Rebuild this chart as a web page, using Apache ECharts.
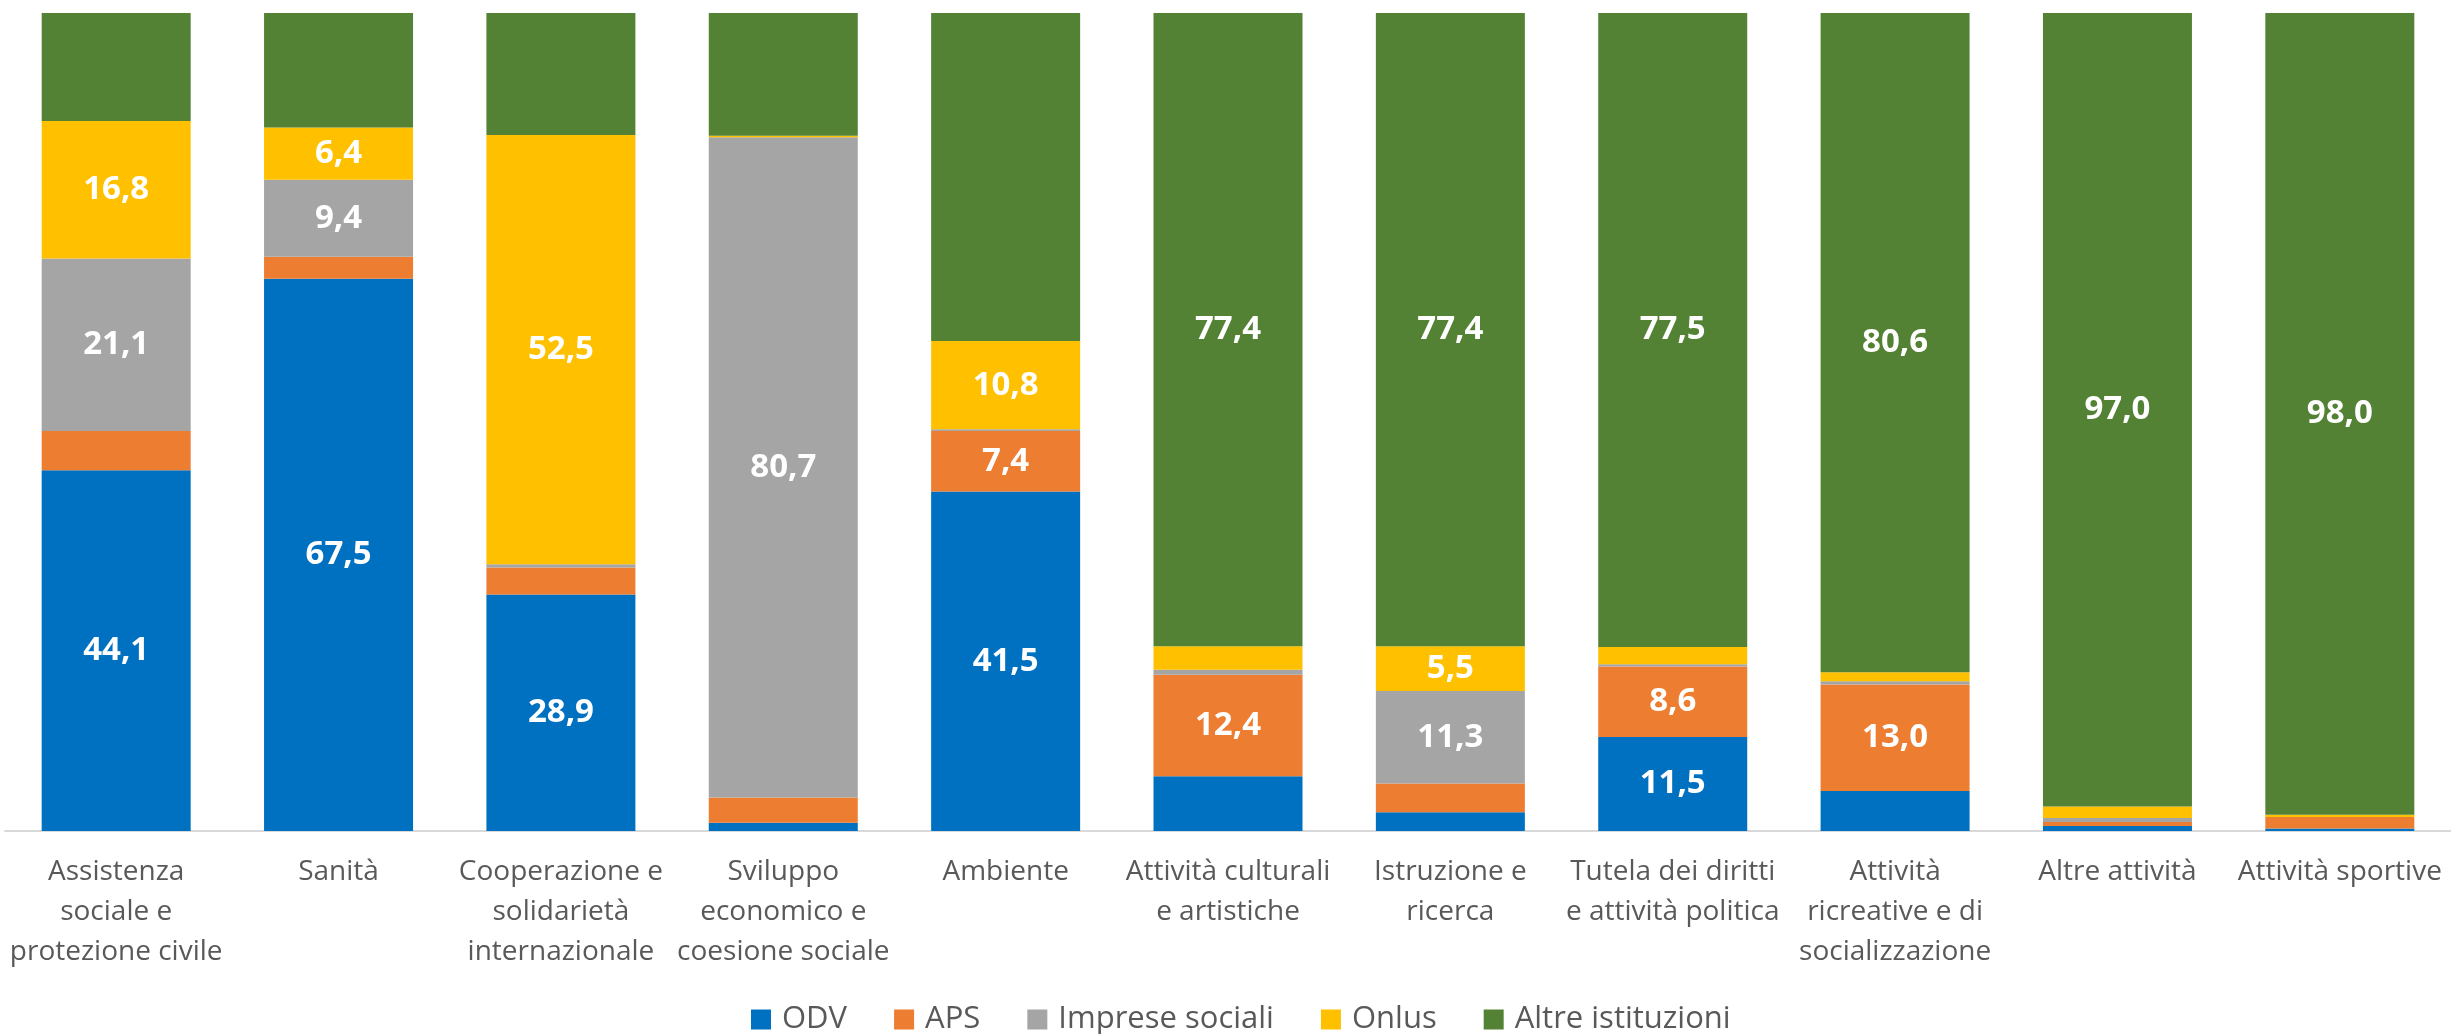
<!DOCTYPE html>
<html>
<head>
<meta charset="utf-8">
<script src="https://cdn.jsdelivr.net/npm/echarts@6/dist/echarts.min.js"></script>
<style>
html,body{margin:0;padding:0;background:#fff;}
#chart{width:2451px;height:1034px;}
</style>
</head>
<body>
<div id="chart"></div>
<script>
const categories = [
  "Assistenza\nsociale e\nprotezione civile",
  "Sanità",
  "Cooperazione e\nsolidarietà\ninternazionale",
  "Sviluppo\neconomico e\ncoesione sociale",
  "Ambiente",
  "Attività culturali\ne artistiche",
  "Istruzione e\nricerca",
  "Tutela dei diritti\ne attività politica",
  "Attività\nricreative e di\nsocializzazione",
  "Altre attività",
  "Attività sportive"
];
const seriesNames = ["ODV", "APS", "Imprese sociali", "Onlus", "Altre istituzioni"];
const odv     = [44.1, 67.5, 28.9, 1.0, 41.5, 6.7, 2.3, 11.5, 4.9, 0.6, 0.3];
const aps     = [4.8, 2.7, 3.3, 3.1, 7.4, 12.4, 3.5, 8.6, 13.0, 0.5, 1.4];
const imprese = [21.1, 9.4, 0.4, 80.7, 0.2, 0.6, 11.3, 0.3, 0.4, 0.5, 0.0];
const onlus   = [16.8, 6.4, 52.5, 0.2, 10.8, 2.9, 5.5, 2.1, 1.1, 1.4, 0.3];
const altre   = [13.2, 14.0, 14.9, 15.0, 40.1, 77.4, 77.4, 77.5, 80.6, 97.0, 98.0];
// which category indices carry a visible value label, per series
const labelledOdv     = [0, 1, 2, 4, 7];
const labelledAps     = [4, 5, 7, 8];
const labelledImprese = [0, 1, 3, 6];
const labelledOnlus   = [0, 1, 2, 4, 6];
const labelledAltre   = [5, 6, 7, 8, 9, 10];

const colors = ["#0070C0", "#ED7D31", "#A5A5A5", "#FFC000", "#548235"];
const values = [odv, aps, imprese, onlus, altre];
const labelled = [labelledOdv, labelledAps, labelledImprese, labelledOnlus, labelledAltre];
const FONT = "'Open Sans', 'Noto Sans', 'Liberation Sans', sans-serif";

const series = seriesNames.map((name, s) => ({
  name: name,
  type: 'bar',
  stack: 'total',
  barWidth: 149,
  itemStyle: { color: colors[s] },
  data: values[s].map((v, i) => ({
    value: v,
    label: { show: labelled[s].indexOf(i) >= 0 }
  })),
  label: {
    position: 'inside',
    color: '#ffffff',
    fontFamily: FONT,
    fontWeight: 'bold',
    fontSize: 33,
    formatter: p => p.value.toFixed(1).replace('.', ',')
  }
}));

const chart = echarts.init(document.getElementById('chart'), null, { renderer: 'canvas' });
chart.setOption({
  animation: false,
  backgroundColor: '#ffffff',
  grid: { left: 5, right: -5, top: 13, bottom: 203, containLabel: false },
  legend: {
    data: seriesNames,
    left: 746,
    top: 999,
    itemWidth: 20,
    itemHeight: 20,
    itemGap: 47,
    icon: 'rect',
    textStyle: { color: '#595959', fontFamily: FONT, fontSize: 31, padding: [0, 0, 0, 6] }
  },
  xAxis: {
    type: 'category',
    data: categories,
    axisLine: { show: true, lineStyle: { color: '#D9D9D9', width: 2 } },
    axisTick: { show: false },
    axisLabel: {
      interval: 0,
      margin: 21,
      color: '#595959',
      fontFamily: FONT,
      fontSize: 28,
      lineHeight: 40
    }
  },
  yAxis: {
    type: 'value',
    min: 0,
    max: 100,
    show: false,
    splitLine: { show: false }
  },
  series: series
});
</script>
</body>
</html>
